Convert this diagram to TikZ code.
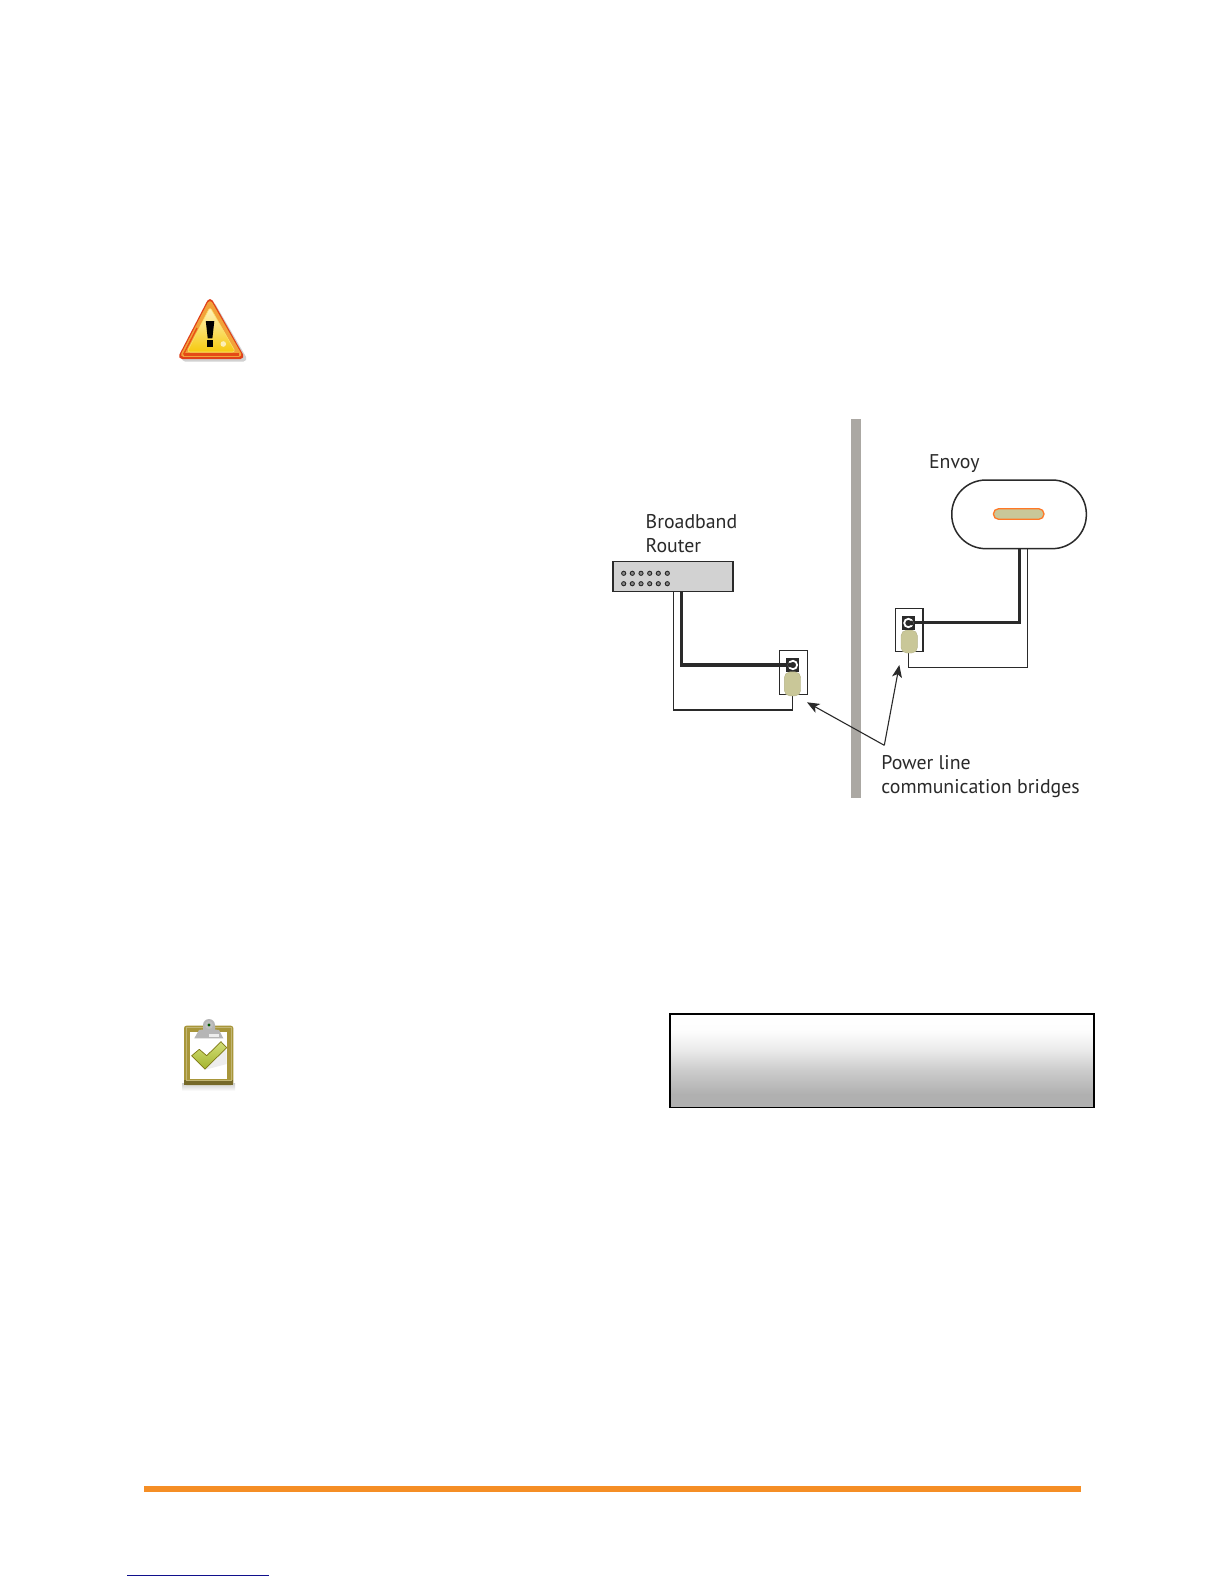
\documentclass[tikz,border=0pt]{standalone}
\usepackage{fontspec}
\setmainfont{PT Sans}
\usetikzlibrary{arrows.meta,calc}
\definecolor{ink}{HTML}{2A2A2A}
\definecolor{wallc}{HTML}{ABA8A3}
\definecolor{plugc}{HTML}{C9C798}
\definecolor{routerc}{HTML}{D2D2D2}
\definecolor{orangerule}{HTML}{F58E25}
\definecolor{bluerule}{HTML}{10108C}
\definecolor{oliveframe}{HTML}{A8963A}
\definecolor{clipg}{HTML}{B5B5B5}
\definecolor{warnTop}{HTML}{F2A23A}
\definecolor{warnBot}{HTML}{E0401A}
\definecolor{yelTop}{HTML}{FFF4C4}
\definecolor{yelBot}{HTML}{F6C90E}
\definecolor{chkTop}{HTML}{D2DE78}
\definecolor{chkBot}{HTML}{A4B42E}
\pgfdeclareverticalshading{boxgrad}{100bp}{
  color(0bp)=(white!69!black);
  color(32bp)=(white!69!black);
  color(45bp)=(white!80!black);
  color(56bp)=(white!92!black);
  color(66bp)=(white!99!black);
  color(75bp)=(white);
  color(100bp)=(white)}
\tikzset{
  x=0.5pt,y=-0.5pt,
  label text/.style={anchor=base west,inner sep=0pt,text=ink,font=\fontsize{9.92}{11}\selectfont},
  thinwire/.style={draw=ink,line width=0.62pt},
  thickwire/.style={draw=ink,line width=1.65pt},
  box/.style={draw=ink,line width=0.62pt},
  pointer/.style={draw=ink,line width=0.55pt,-{Stealth[length=6.2pt,width=5pt,inset=1.6pt]}},
  plug/.style={fill=plugc,draw=plugc!90!black,line width=0.2pt,rounded corners=2.8pt},
  dot/.style={circle,draw=ink,fill=black!45,line width=.45pt,inner sep=0pt,minimum size=2.1pt},
}
\begin{document}
\begin{tikzpicture}
\useasboundingbox (0,0) rectangle (1224,1584);
\fill[white] (0,0) rectangle (1224,1584);

% warning icon
\fill[black!18,line join=round,line width=3pt,draw=black!18] (213,306) -- (185,358.5) -- (243.5,358.5) -- cycle;
\shade[top color=warnTop,bottom color=warnBot,line join=round,line width=3pt,draw=warnBot]
  (210,302) -- (182,356) -- (240.5,356) -- cycle;
\fill[warnTop,line join=round,line width=2.4pt,draw=warnTop] (210,303.5) -- (183.5,354.5) -- (239,354.5) -- cycle;
\draw[draw=warnBot!85!orange,line width=1.1pt,line join=round] (183.5,354.5) -- (239,354.5);
\draw[draw=warnBot!75!orange,line width=.7pt,line join=round] (197,328) -- (183.5,354.5);
\draw[top color=yelTop,bottom color=yelBot,draw=yelTop!50!yelBot,line width=.3pt,line join=round,rounded corners=1.5pt]
  (210,307) -- (187,352) -- (235.5,352) -- cycle;
\fill[black] (205.8,321) -- (214.3,321) -- (212.4,338.3) -- (207.7,338.3) -- cycle;
\fill[black] (206.8,340) rectangle (213.4,346.7);
\fill[white,opacity=.65] (223.3,344) circle (2.8);

% clipboard icon
\shade[top color=black!20,bottom color=white] (182,1083) rectangle (235,1091);
\fill[oliveframe,rounded corners=1.2pt] (184,1025.7) rectangle (233.3,1085);
\fill[oliveframe!70!black] (184,1080) rectangle (233.3,1085);
\draw[oliveframe!70!white,line width=.5pt] (186,1027.5) rectangle (231.5,1080);
\fill[white] (190,1031.7) rectangle (226.7,1079);
\fill[black!7] (209,1052) -- (226.7,1050) -- (226.7,1064) -- (204,1070) -- cycle;
\fill[clipg] (194.3,1038.3) -- (199,1030) -- (203,1029.5) -- (203,1025) arc (180:360:6) -- (215,1029.5) -- (219,1030) -- (223.3,1038.3) -- cycle;
\fill[black!25] (209,1025) circle (4);
\fill[black!65!green] (209,1025) circle (1.6);
\fill[black!7] (209,1034) rectangle (219,1036.5);
\draw[draw=olive!85!black,line width=.35pt,line join=round,top color=chkTop,bottom color=chkBot]
  (191.7,1055.7) -- (199.3,1049.3) -- (206.7,1055.7) -- (221,1041.7) -- (226.7,1047.7) -- (205,1069) -- cycle;

% wall
\fill[wallc] (851,419) rectangle (861.3,798);

% router
\node[box,fill=routerc,minimum width=60pt,minimum height=15pt,inner sep=0pt,anchor=north west] (router) at (612.3,561) {};
\foreach \px/\pn in {623.7/a,632.3/b,641/c,649.7/d,658.3/e,667.3/f}{
  \node[dot] (dot1\pn) at (\px,573.3) {};
  \node[dot] (dot2\pn) at (\px,583.7) {};
}
\node[label text] (lbroad) at (645.3,528.3) {Broadband};
\node[label text] (lrouter) at (645.3,552.7) {Router};

% left outlet
\node[box,fill=white,minimum width=14pt,minimum height=22pt,inner sep=0pt,anchor=north west] (outL) at (778.7,650) {};
\coordinate (jackLc) at (792.7,665);
\coordinate (rThin) at (673.3,591);
\coordinate (rThick) at (681.7,591);
\coordinate (plugLb) at (792.7,695);
\draw[thinwire] (rThin) |- (plugLb |- 0,710) -- (plugLb);
\node[fill=ink,minimum width=6.7pt,minimum height=6.7pt,inner sep=0pt] (jackL) at (792.7,665) {};
\draw[thickwire] (rThick) |- (jackLc);
\node[circle,draw=white,line width=.9pt,minimum size=4.2pt,inner sep=0pt] (ringL) at (792.9,665) {};
\fill[ink] (ringL.center) ++(-3,0) circle (2.3);
\node[plug,minimum width=8.2pt,minimum height=12pt,inner sep=0pt,anchor=north] (plugL) at (792.5,671.7) {};

% Envoy
\node[draw=ink,line width=.75pt,fill=white,rounded corners=17pt,minimum width=67.3pt,minimum height=34.3pt,inner sep=0pt,anchor=north west] (envoy) at (951,479.3) {};
\node[draw=orange!75!red!85!white,line width=.65pt,fill=plugc,rounded corners=2.6pt,minimum width=25.3pt,minimum height=5.3pt,inner sep=0pt] (slot) at (1018.7,514) {};
\node[label text] (lenvoy) at (928.7,468.3) {Envoy};

% right outlet
\node[box,fill=white,minimum width=13.8pt,minimum height=21.7pt,inner sep=0pt,anchor=north west] (outR) at (894.7,607.7) {};
\coordinate (jackRc) at (908.6,622.7);
\coordinate (eThick) at (1019.3,548);
\coordinate (eThin) at (1027.7,548);
\coordinate (plugRb) at (908.3,652);
\draw[thinwire] (eThin) |- (plugRb |- 0,667.3) -- (plugRb);
\node[fill=ink,minimum width=6.7pt,minimum height=7pt,inner sep=0pt] (jackR) at (908.6,623) {};
\draw[thickwire] (eThick) |- (jackRc);
\node[circle,draw=white,line width=.9pt,minimum size=4.2pt,inner sep=0pt] (ringR) at (908.4,623) {};
\fill[ink] (ringR.center) ++(3,0) circle (2.3);
\node[plug,minimum width=8.2pt,minimum height=11.4pt,inner sep=0pt,anchor=north] (plugR) at (909.2,630) {};

% pointers
\coordinate (tipL) at (807,702.3);
\coordinate (tipR) at (899.3,665);
\coordinate (junction) at (884.3,745.3);
\draw[pointer] (junction) -- (tipL);
\draw[pointer] (junction) -- (tipR);
\node[label text] (lpower) at (881,769.3) {Power line};
\node[label text] (lcomm) at (881,793.3) {communication bridges};

% gradient panel
\node[draw=black,line width=.85pt,shading=boxgrad,minimum width=211.8pt,minimum height=46.6pt,inner sep=0pt,anchor=north west] (panel) at (669.3,1013.4) {};

% page rules
\fill[orangerule] (144,1486) rectangle (1081,1492);
\fill[bluerule] (127,1574.7) rectangle (269,1576);
\end{tikzpicture}
\end{document}
